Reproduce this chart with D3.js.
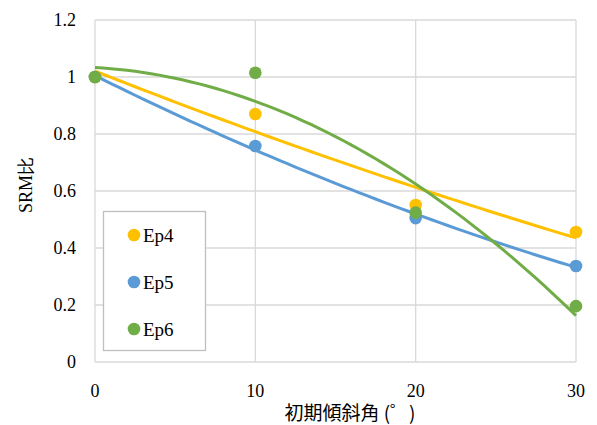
<!DOCTYPE html>
<html>
<head>
<meta charset="UTF-8">
<script src="https://d3js.org/d3.v7.min.js"></script>
</head>
<body style="margin:0">
<svg id="chart" width="597" height="425"></svg>
<script>
// data
const angles = [0, 10, 20, 30];
const seriesNames = ["Ep4", "Ep5", "Ep6"];
const ep4 = [1.0, 0.87, 0.551, 0.456];
const ep5 = [1.0, 0.758, 0.505, 0.337];
const ep6 = [1.0, 1.015, 0.524, 0.196];
const colors = ["#ffc000", "#5b9bd5", "#70ad47"];
const xTicks = [0, 10, 20, 30];
const yTicks = [0, 0.2, 0.4, 0.6, 0.8, 1, 1.2];

const svg = d3.select("#chart");

const x = d3.scaleLinear().domain([0, 30]).range([95, 576]);
const y = d3.scaleLinear().domain([0, 1.2]).range([362, 20]);

// grid
const grid = svg.append("g").attr("stroke", "#d9d9d9").attr("stroke-width", 1.3);
grid.selectAll(".h").data(yTicks).enter().append("line")
  .attr("x1", x(0)).attr("x2", x(30))
  .attr("y1", d => y(d)).attr("y2", d => y(d));
grid.selectAll(".v").data(xTicks).enter().append("line")
  .attr("y1", y(0)).attr("y2", y(1.2))
  .attr("x1", d => x(d)).attr("x2", d => x(d));

// tick labels, placed through the scales
svg.append("g").selectAll("text").data(yTicks).enter().append("text")
  .attr("x", x(0) - 19).attr("y", d => y(d) + 6)
  .attr("text-anchor", "end")
  .attr("font-family", "Liberation Serif").attr("font-size", 18)
  .text(d => d3.format("")(d));
svg.append("g").selectAll("text").data(xTicks).enter().append("text")
  .attr("x", d => x(d)).attr("y", y(0) + 35)
  .attr("text-anchor", "middle")
  .attr("font-family", "Liberation Serif").attr("font-size", 18)
  .text(d => d);

// quadratic least-squares trendline (as the spreadsheet does)
function polyFit2(xs, ys) {
  const n = xs.length;
  let s = [0, 0, 0, 0, 0], t = [0, 0, 0];
  for (let i = 0; i < n; i++) {
    for (let k = 0; k < 5; k++) s[k] += Math.pow(xs[i], k);
    for (let k = 0; k < 3; k++) t[k] += ys[i] * Math.pow(xs[i], k);
  }
  const A = [[s[0], s[1], s[2], t[0]], [s[1], s[2], s[3], t[1]], [s[2], s[3], s[4], t[2]]];
  for (let c = 0; c < 3; c++) {
    for (let r = c + 1; r < 3; r++) {
      const f = A[r][c] / A[c][c];
      for (let k = c; k < 4; k++) A[r][k] -= f * A[c][k];
    }
  }
  const b = [0, 0, 0];
  for (let r = 2; r >= 0; r--) {
    let v = A[r][3];
    for (let k = r + 1; k < 3; k++) v -= A[r][k] * b[k];
    b[r] = v / A[r][r];
  }
  return xv => b[0] + b[1] * xv + b[2] * xv * xv;
}

const allSeries = [ep4, ep5, ep6];
const line = d3.line().x(d => x(d[0])).y(d => y(d[1]));
const samples = d3.range(0, 30.01, 0.5);

allSeries.forEach((vals, i) => {
  const f = polyFit2(angles, vals);
  svg.append("path")
    .datum(samples.map(a => [a, f(a)]))
    .attr("d", line)
    .attr("fill", "none")
    .attr("stroke", colors[i])
    .attr("stroke-width", 3);
});

allSeries.forEach((vals, i) => {
  svg.append("g").selectAll("circle")
    .data(vals).enter().append("circle")
    .attr("cx", (d, j) => x(angles[j]))
    .attr("cy", d => y(d))
    .attr("r", 6.3)
    .attr("fill", colors[i]);
});

// legend
svg.append("rect")
  .attr("x", 103.5).attr("y", 211.5).attr("width", 102).attr("height", 139)
  .attr("fill", "#fff").attr("stroke", "#bfbfbf").attr("stroke-width", 1.3);
seriesNames.forEach((name, i) => {
  const cy = 235 + i * 47;
  svg.append("circle").attr("cx", 134).attr("cy", cy).attr("r", 6.3).attr("fill", colors[i]);
  svg.append("text").attr("x", 143).attr("y", cy + 7)
    .attr("font-family", "Liberation Serif").attr("font-size", 19).text(name);
});

// axis titles
svg.append("text")
  .attr("transform", "translate(32,185) rotate(-90)")
  .attr("text-anchor", "middle")
  .attr("font-family", "Liberation Serif")
  .attr("font-size", 18)
  .text("SRM比");
svg.append("text")
  .attr("x", 350).attr("y", 420)
  .attr("text-anchor", "middle")
  .attr("font-family", "Noto Sans CJK JP")
  .attr("font-size", 19)
  .text("初期傾斜角 (゜)");
</script>
</body>
</html>
